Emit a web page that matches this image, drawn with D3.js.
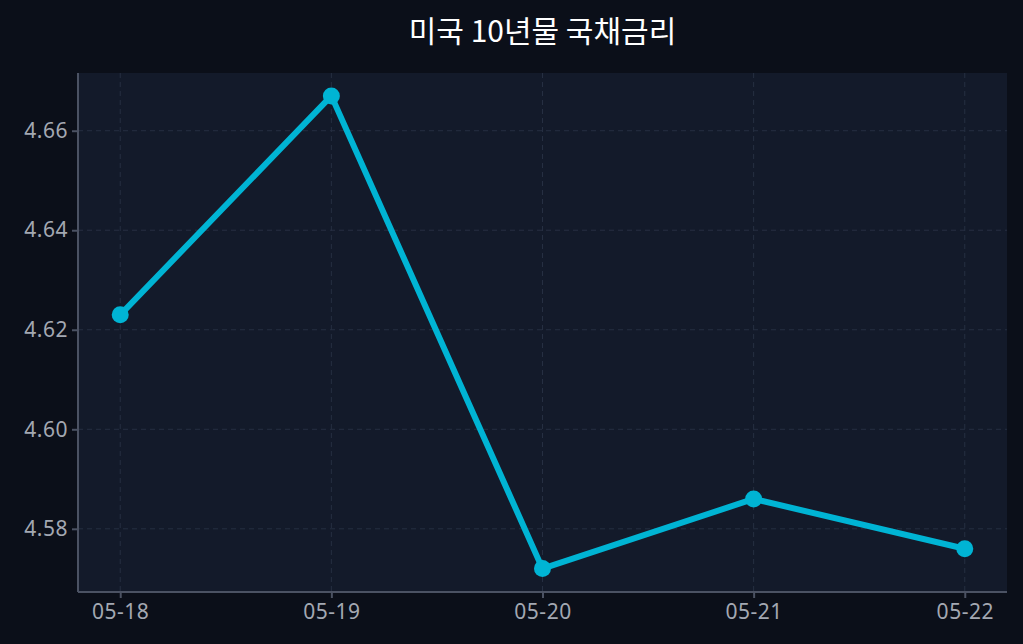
<!DOCTYPE html><html><head><meta charset="utf-8">
<script src="https://cdn.jsdelivr.net/npm/d3@7"></script>
<style>body{margin:0;background:#0b0f19;}svg{display:block}</style></head><body>
<script>
const categories=["05-18","05-19","05-20","05-21","05-22"];
const values=[4.623,4.667,4.572,4.586,4.576];
const yTicks=[4.58,4.60,4.62,4.64,4.66];
const W=1023,H=644,m={l:78,r:16,t:73,b:52};
const svg=d3.select("body").append("svg").attr("width",W).attr("height",H);
svg.append("rect").attr("width",W).attr("height",H).attr("fill","#0b0f19");
const x=d3.scalePoint().domain(categories).range([m.l,W-m.r]).padding(0.2);
const y=d3.scaleLinear().domain([4.5673,4.6716]).range([H-m.b,m.t]);
svg.append("rect").attr("x",m.l).attr("y",m.t).attr("width",W-m.r-m.l).attr("height",H-m.b-m.t).attr("fill","#131a2a");
const g=svg.append("g");
yTicks.forEach(t=>g.append("line").attr("x1",m.l).attr("x2",W-m.r).attr("y1",y(t)).attr("y2",y(t)).attr("stroke","#262f42").attr("stroke-dasharray","5,4"));
categories.forEach(c=>g.append("line").attr("x1",x(c)).attr("x2",x(c)).attr("y1",m.t).attr("y2",H-m.b).attr("stroke","#262f42").attr("stroke-dasharray","5,4"));
const ax=svg.append("g").attr("transform",`translate(0,${H-m.b})`).call(d3.axisBottom(x).tickSize(6).tickPadding(6));
const ay=svg.append("g").attr("transform",`translate(${m.l},0)`).call(d3.axisLeft(y).tickValues(yTicks).tickFormat(d3.format(".2f")).tickSize(6).tickPadding(4));
[ax,ay].forEach(a=>{a.selectAll("path,line").attr("stroke","#4b5263").attr("stroke-width",2);a.selectAll("text").attr("fill","#a3a8b2").attr("font-size",21).attr("font-family","Noto Sans, sans-serif").attr("letter-spacing","0.5px");});
ax.select(".domain").attr("d",`M${m.l},0H${W-m.r}`);
ay.select(".domain").attr("d",`M0,${m.t}V${H-m.b}`);
const line=d3.line().x((d,i)=>x(categories[i])).y(d=>y(d));
svg.append("path").datum(values).attr("d",line).attr("fill","none").attr("stroke","#00b4d4").attr("stroke-width",6).attr("stroke-linejoin","round");
svg.selectAll("circle.p").data(values).join("circle").attr("cx",(d,i)=>x(categories[i])).attr("cy",d=>y(d)).attr("r",8.5).attr("fill","#00b4d4");
svg.append("text").attr("x",(m.l+W-m.r)/2).attr("y",42).attr("text-anchor","middle").attr("fill","#ffffff").attr("font-size",30).attr("font-family","Noto Sans CJK KR, sans-serif").text("미국 10년물 국채금리");
</script></body></html>
